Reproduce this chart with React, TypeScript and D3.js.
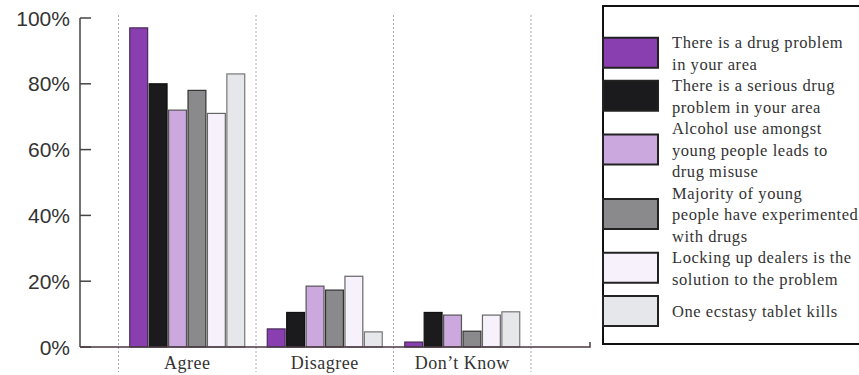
import React from "react";
import * as d3 from "d3";

const categories = ["Agree", "Disagree", "Don\u2019t Know"];

const seriesLabels = [
  ["There is a drug problem", "in your area"],
  ["There is a serious drug", "problem in your area"],
  ["Alcohol use amongst", "young people leads to", "drug misuse"],
  ["Majority of young", "people have experimented", "with drugs"],
  ["Locking up dealers is the", "solution to the problem"],
  ["One ecstasy tablet kills"],
];

// values per series, in category order: Agree, Disagree, Don't Know
const drugProblem = [97, 5.5, 1.5];
const seriousProblem = [80, 10.5, 10.5];
const alcoholLeads = [72, 18.5, 9.7];
const experimented = [78, 17.3, 4.8];
const lockingUp = [71, 21.5, 9.7];
const ecstasyKills = [83, 4.6, 10.7];

const seriesValues = [drugProblem, seriousProblem, alcoholLeads, experimented, lockingUp, ecstasyKills];

const yTicks = [0, 20, 40, 60, 80, 100];

const fills = ["#8a3fb0", "#1b1a1c", "#cba9df", "#8a898c", "#f6f1fa", "#e6e7ea"];
const strokes = ["#4a2a5a", "#111", "#555", "#333", "#666", "#777"];

const W = 859;
const H = 375;

export default function App() {
  const y = d3.scaleLinear().domain([0, 100]).range([347, 18]);
  const x0 = d3.scaleBand<string>().domain(categories).range([118.5, 531]).padding(0);
  const x1 = d3
    .scaleBand<number>()
    .domain(d3.range(seriesValues.length))
    .range([0, x0.bandwidth()])
    .paddingInner(0.08)
    .paddingOuter(0.58);

  const gridXs = [...categories.map((c) => x0(c) as number), x0.range()[1]];

  // legend layout
  const legendLeft = 603;
  const lineH = 21.5;
  const textX = 672;
  const swatchH = 30;
  const legendStartY = 48;
  const lastGap = 11;
  let lineIdx = 0;
  const legendItems = seriesLabels.map((lines, i) => {
    const first = lineIdx;
    lineIdx += lines.length;
    const shift = i === seriesLabels.length - 1 ? lastGap : 0;
    const centerY = legendStartY + (first + (lines.length - 1) / 2) * lineH - 6 + shift;
    return { lines, i, first, centerY, shift };
  });

  return (
    <svg
      width={W}
      height={H}
      style={{ position: "absolute", left: 0, top: 0, background: "#fff" }}
    >
      {/* dotted category separators */}
      {gridXs.map((gx, i) => (
        <line
          key={"g" + i}
          x1={gx}
          x2={gx}
          y1={15}
          y2={372}
          stroke="#a9a6b4"
          strokeWidth={1}
          strokeDasharray="2,2"
        />
      ))}

      {/* bars */}
      {categories.map((c, ci) => (
        <g key={c} transform={`translate(${x0(c)},0)`}>
          {seriesValues.map((vals, si) => (
            <rect
              key={si}
              x={x1(si)}
              y={y(vals[ci])}
              width={x1.bandwidth()}
              height={y(0) - y(vals[ci])}
              fill={fills[si]}
              stroke={strokes[si]}
              strokeWidth={1.2}
            />
          ))}
        </g>
      ))}

      {/* y axis */}
      <line x1={80} x2={80} y1={y(100)} y2={y(0)} stroke="#444" strokeWidth={1.5} />
      {yTicks.map((t) => (
        <g key={t}>
          <line x1={80} x2={91} y1={y(t)} y2={y(t)} stroke="#444" strokeWidth={1.5} />
          <text
            x={70}
            y={y(t)}
            dy="0.36em"
            textAnchor="end"
            fontFamily="Liberation Sans, Arial, sans-serif"
            fontSize={21}
            fill="#333"
          >
            {t}%
          </text>
        </g>
      ))}

      {/* baseline */}
      <path d={`M80,${y(0)}H590V${y(0) - 5}`} fill="none" stroke="#4a3a42" strokeWidth={1.5} />

      {/* category labels */}
      {categories.map((c) => (
        <text
          key={c}
          x={(x0(c) as number) + x0.bandwidth() / 2}
          y={369}
          textAnchor="middle"
          fontFamily="Liberation Serif, Times New Roman, serif"
          fontSize={18}
          letterSpacing={0.5}
          fill="#333"
        >
          {c}
        </text>
      ))}

      {/* legend */}
      <rect x={legendLeft} y={6} width={300} height={338} fill="#fff" stroke="#111" strokeWidth={2} />
      {legendItems.map(({ lines, i, first, centerY, shift }) => (
        <g key={i}>
          <rect
            x={legendLeft}
            y={centerY - swatchH / 2}
            width={55}
            height={swatchH}
            fill={fills[i]}
            stroke="#222"
            strokeWidth={2}
          />
          {lines.map((ln, k) => (
            <text
              key={k}
              x={textX}
              y={legendStartY + (first + k) * lineH + shift}
              fontFamily="Liberation Serif, Times New Roman, serif"
              fontSize={16.5}
              letterSpacing={0.55}
              fill="#333"
            >
              {ln}
            </text>
          ))}
        </g>
      ))}
    </svg>
  );
}
